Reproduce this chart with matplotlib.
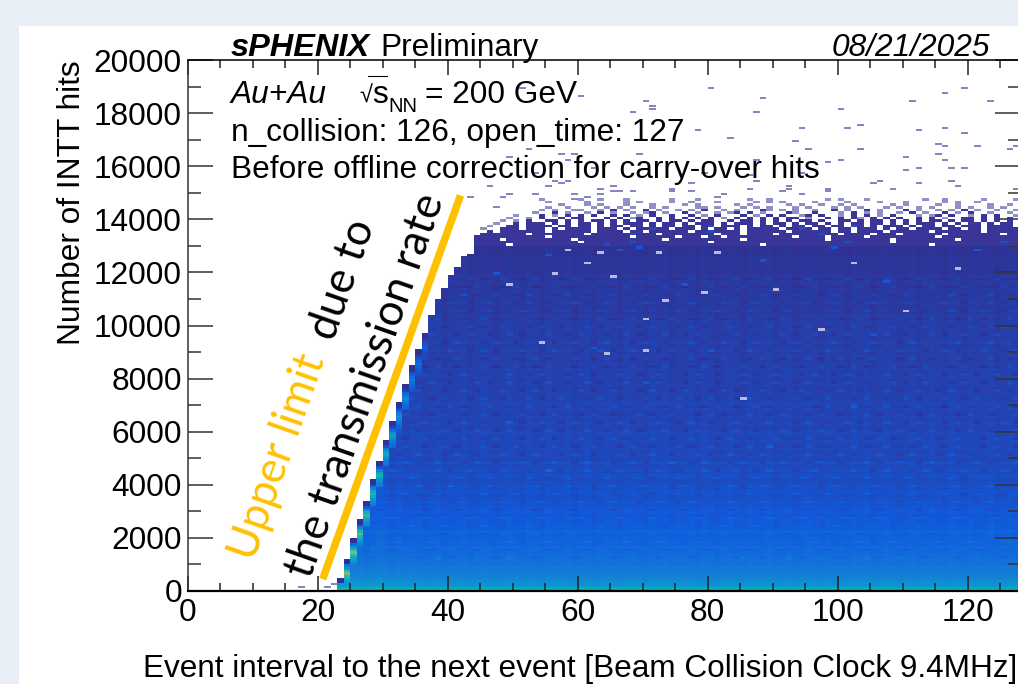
import numpy as np
import matplotlib
matplotlib.use('Agg')
import matplotlib.pyplot as plt
from matplotlib.colors import LinearSegmentedColormap, ListedColormap
from matplotlib.lines import Line2D
from matplotlib.patches import Rectangle
from matplotlib.ticker import MultipleLocator

# ROOT kBird palette
bird_r = [0.2082, 0.0592, 0.0780, 0.0232, 0.1802, 0.5301, 0.8186, 0.9956, 0.9764]
bird_g = [0.1664, 0.3599, 0.5041, 0.6419, 0.7178, 0.7492, 0.7328, 0.7862, 0.9832]
bird_b = [0.5293, 0.8684, 0.8385, 0.7914, 0.6425, 0.4662, 0.3499, 0.1968, 0.0539]

# colour level of the heatmap per 100 hit row, read from the bottom up
row_level = [.42, .36, .32, .29, .27, .25, .24, .22, .22, .21,
             .19, .20, .18, .18, .17, .16, .17, .15, .16, .15,
             .14, .14, .15, .13, .13, .12, .12, .13, .11, .12,
             .11, .11, .10, .11, .10, .09, .10, .10, .09, .10,
             .09, .08, .09, .09, .08, .09, .08, .08, .09, .07,
             .08, .08, .07, .08, .07, .07, .08, .07, .07, .08,
             .07, .06, .07, .07, .06, .07, .06, .06, .07, .06,
             .07, .06, .06, .06, .06, .06, .05, .06, .06, .05,
             .06, .06, .05, .06, .05, .06, .05, .05, .06, .05,
             .06, .05, .05, .06, .05, .05, .05, .05, .05, .05,
             .05, .05, .04, .05, .04, .05, .04, .04, .05, .04,
             .04, .04, .04, .04, .03, .04, .04, .03, .04, .03,
             .03, .03, .03, .03, .03, .03, .02, .02, .03, .02,
             .02, .02, .02, .01, .02, .01, .01, .01, .00, .00]

# top of the filled area, one value per bin from x = 23
solid_top = [500, 1200, 2000, 2700, 3400, 4200, 4900, 5700, 6400, 7100,
             7800, 8500, 9100, 9700, 10400, 11000, 11400, 11900, 12200, 12600,
             12700, 13100, 13300, 13300, 13300] + [13000] * 80

# small offset per column
col_dev = [.01, .01, .02, .01, .00, .01, .02, .01, .00, .01,
           .00, .005, .005, -.005, .00, .005, -.005, .00, .00, .005,
           -.005, .00, .005, .00, -.005, .00, .005, .00, -.005, .005,
           .00, -.005, .005, .00, .00, .005, -.005, .00, .005, -.005,
           .00, .005, .00, -.005, .005, .00, .00, -.005, .005, .00,
           .005, -.005, .00, .00, .005, -.005, .005, .00, -.005, .00,
           .005, .00, -.005, .005, .00, .00, .005, -.005, .00, .005,
           -.005, .00, .005, .00, -.005, .005, .00, .00, -.005, .005,
           .00, .005, -.005, .00, .005, .00, -.005, .00, .005, -.005,
           .00, .005, .00, -.005, .005, .00, -.005, .005, .00, .00,
           .005, -.005, .00, .005, .00]

# bright band just under the edge of the ramp
ramp_x = list(range(23, 37))
ramp_gain = [1.1, 1.2, 1.2, 1.1, 1.0, .95, .9, .8, .7, .6, .55, .45, .35, .25]
cap_level = [.02, .02, .12, .28, .42, .50, .42, .34, .28, .24]

# short streaks inside the filled area, x = 23 .. 127, '+' lighter, '#' much lighter, '-' darker
streak_rows = list(range(1200, 12000, 300))
streak_level = {'+': .03, '#': .06, '-': -.025}
streaks = [
    "..+..-..+...-..+.-...+..-.+...-..+..-...+.-..+...-.+..-..+...-+..-...+.-..+..-...+.-..+...-..+.-..+...-.",
    ".-...+..-.+...-..+...-.+..-...+.-..+..-.+...-..+..-...+.-..+...-..+.-...+..-.+...-..+..-.+...-.+..-..+...",
    "...+.-...+..-.+.-..+...-..+.-...+..-..+.-...+.-..+...-.+..-...+..-.+...-.+..-...+.-..+..-...+.-..+..-..+.",
    "+..-..+..-...+..-.+...-..+..-.+...-.+..-...+..-.+.-...+..-.+...-..+..-.+...-..+.-...+..-.+.-...+..-.+...-",
    "..-.+...-..+.-..+...-.+..-...+.-..+...-.+..-..+...-.+..-...+.-..+..-...+..-.+...-.+..-...+.-..+...-.+..-.",
    ".+..-...+..-.+...-..+.-..+...-.+..-..+.-...+..-.+..-...+.-..+...-.+..-.+...-..+.-..+...-.+..-..+...-.+..-",
    "-...+.-..+...-.+..-...+.-..+..-.+...-..+..-.+...-..+.-...+..-..+.-...+..-.+..-...+.-..+..-.+...-..+.-...+",
    "..+..-.+...-..+..-.+.-...+..-..+.-...+..-.+...-..+..-.+.-...+..-.+...-..+..-.+.-...+..-..+...-.+..-.+...-",
    ".-..+...-.+.-..+...-..+..-.+...-.+..-...+.-..+..-...+..-.+...-.+..-...+.-..+...-.+..-...+.-..+..-.+...-.+",
    "...-.+..-...+.-..#...-.+..-...+.-..+...-..+.-..+...-.+..-...+.-..+..-.+...-.+..-..+...-.+..-...+.-..+..-.",
    "+.-...+..-.+...-..+.-..+...-.+..-..+.-...+..-.+.-...+..-..+...-.+..-...+.-..+..-.+...-.+..-...+.-..+...-.",
    "..+...-.+..-...+.-..+..-.+...-..#.-...+..-.+...-.+..-...+.-..+..-.+...-..+.-...+..-.+...-.+.-...+..-..+.-",
    ".-.+..-...+.-..+...-.+..-...+.-..+..-.+...-..+.-...#..-.+...-.+..-..+...-.+..-...+.-..+..-.+...-..+.-...+",
    "+...-..+.-..+...-.+..-...+..-.+...-.+..-...+.-..+..-...+.-..+..-.+...-..+..-.+.-...+..-.+...-.+..-...+.-.",
    "..-.+...-.+..-..+.-...+.-..+...-.+..-..+...-.+..-...+.-..+...-.+..#...-.+..-...+.-..+...-.+..-.+...-.+..-",
    ".+..-.+...-..+.-...+..-.+...-..+.-...+..-.+.-...+..-..+...-.+..-...+.-..+..-.+...-.+.-...+..-..+...-.+..-",
    "-..+...-.+..-...+.-..+..-.+...-.+.-...+..-..+.-...+..-.+...-.+..-...+.-...+..-.+...-..+.-..+...-.+..-...+",
    "..+.-...+..-.+...-.+..-...#.-..+..-.+...-..+.-...+..-.+..-...+.-..+...-.+..-..+.-...+..-.+...-.+..-...+.-",
    ".-...+.-..+...-.+..-..+.-...+..-.+...-.+..-...+.-..+...-.+.-...+..-.+...-.+..-...+.-..+..-.+...-.+..-...+",
    "+..-.+...-..+..-.+.-...+..-..+...-.+..-...+.-..+..-.+...-.+..-..+.-...+..-.+...#.-..+..-.+...-.+.-...+..-",
    "..-...+.-..+..-.+...-.+..-...+.-..+...-.+..-...+.-..+..-.+...-.+..-...+.-..+...-.+..-..+.-...+..-.+...-.+",
    ".+.-...+..-.+...-..+.-...+..-.+..-...+.-..+...-.+..-.+...-.+.-...+..-..+...-.+..-...+.-..+..-.+...-..+.-.",
    "-..+..-.+...-.+..-...+.-..+...-.+..-..+.-...+..#.+...-.+..-...+.-..+..-.+...-.+..-...+.-..+...-.+..-...+.",
    "..+...-.+.-..+...-.+..-...+..-.+...-.+.-...+..-..+...-.+..-...+.-..+...-.+..-.+.-...+..-.+...-..+.-..+..-",
    ".-.+..-..+...-.+..-...+.-..+..-.+...-..+.-...+..-.+...-.+.-...+..-.+...-..+..-.+.-...+..-.+...-.+..-...+.",
    "+...-.+..-...+.-..+...-.+..-..+.-...+..-.+...-.+..-...+.-..+...-.+..-...+.-..+..-.+...-.+..-...+.-..+..-.",
    "..-.+...-..+.-...+..-.+.-...+..-.+...-..+.-..+...-.+..-..#...-.+..-...+.-..+...-.+..-.+...-..+.-...+..-.+",
    ".+..-...+.-..+..-.+...-.+..-...+.-..+..-.+...-.+..-...+.-..+..-.+...-.+.-...+..-..+...-.+..-...+.-..+...-",
    "-..+.-...+..-.+...-.+..-..+.-...+..-.+...-..+.-...+..-.+...-.+..-...+.-..+..-.+...#.+..-...+.-..+..-.+...",
    "..+..-.+...-.+..-...+.-..+...-.+..-...+.-..+..-.+...-.+.-...+..-..+...-.+..-...+.-...+..-.+...-..+.-..+..",
    ".-...+.-..+..-.+...-..+.-...+..-.+..-...+.-..+...-.+..-..+.-...+..-.+...-.+..-..+.-...+..-.+...-.+.-...+.",
    "+..-.+...-.+..-...+.-..+..-.+...-.+.-...+..-.+...-..+.-...+..-.+...-.+..-...+.-..+...-.+..-...+.-..+..-.+",
    "..-...+..-.+.-...+..-..+...-.+..-...+.-..+...-.+..-...+.-..+..-.+...-..+.-..+...-.+..-.+...-.+..-...+.-..",
    ".+.-..+...-.+..-...#.-..+..-.+...-.+..-...+.-..+..-.+...-.+..-...+.-..+...-.+.-...+..-.+...-..+.-...+..-.",
    "-..+...-..+.-...+..-.+...-.+..-..+.-...+..-.+...-.+..-...+.-..+..-.+...-.+..-...+.-..+...-.+..-.+...-.+..",
    "..+.-..+...-.+..-...+.-..+..-.+...-.+.-...+..-..+...-.+..-...+.-..+...-.+..-..+.-...+..-.+...-.+..-..+.-.",
]

# fringe above the filled area, x = 44 .. 127, '.' empty, 1 pale, 2 navy, 3 blue
fringe_rows = list(range(14700, 12900, -100))
fringe = [
    "..........1.....1..1...1......1...1.......1..1........1.1...1........1..1.....1....1.",
    "...........1.....1.....1.1....1..1...1.....1.1.1....1....1....1...1.....1.1..1......",
    ".............1...1.1...1...1....1.1.....1.1.....1.1..1..1.1.....1.1....1..1....1..1.",
    "...........1..1...1.1.1.1..1.1....11.1...1.1.1...1.1...1.1.1...1.1..1.1...1.1..1.1..",
    "..........1.1..11..1.2.1..2.1..1.1.2..1.1...21.1.1..1..2.1..2.1...2.1..1.1.2.1..1..1",
    ".........1..2.1..1.2.1..1.12.1..2.1..1.12.2.1...21..2...1.2.1.1..1.2.1..2.1.2..1..1.",
    "......1...2.1.2.2.2..2.2.1.2..2..2.1.2...2.1.2.2..12.2..1.2.2.1.2...1.12.2..1.2.2..1",
    ".....1..1.2..2.22...2.2.12..2.2.2.2.2.1.2.2.2.2.22.1..2.2.21.2.2.2..2.2.1..22.2.2.2.",
    "....1.1.2..22.2.2.22.2.2.22.2.22.2.22..2.22.2.2.2.22.2..22.2.22.2.2.2.22.2.22.2.2.2.",
    "...1..2.222.2.2.22.2.2.222.2.22.2.222.2.222.2.22.2.22.2.2.22.22.2.2.222.2.2.22.2.22.",
    "..1..22.2222.22.22.2.22.22.2.22.22.23.222.2.22.2.22.22.22.32.2.222.2.22.22.222.2222.",
    ".1..222.222.2.2222.222.2.22322.222.2.22.2.22222.2232.22.22.222.2.22.2222.22.22.22222",
    "..2.2222222.222222.2222.22.222222.2232222.222222.222222.22.2222.222222.2222222.22222",
    ".2222222.22222222.2222223222.22222222.222.2222.222222322.2222.222.222222.22222222.22",
    "22222222222.222222222222.222222.222.22.2222222222.2222.22222.2222222222.222222222222",
    "2222.2222222222.2222222222222.22222222222.222222222222.222222222.222222222.222222222",
    "2222222222222222.2222222322222222222.222222222222222222223222222.2222222222222222322",
    "22222.22222222222222322222222222222222222222.2222222222222222222222222.2222222222222",
]

# isolated counts above the fringe
out_x = [43, 60, 51, 68, 61, 52, 57, 59, 49, 58, 53, 62, 57, 56, 58, 46, 55, 63, 65, 65, 66, 68,
         49, 48, 53, 59, 59, 61, 63, 47, 80, 88, 70, 71, 71, 87, 78, 94, 83, 93, 95, 69, 87, 98,
         94, 86, 79, 87, 77, 92, 74, 74, 77, 91, 86, 92, 82, 81, 98, 94,
         119, 116, 123, 111, 100, 103, 101, 116, 112, 119, 115, 116, 121, 126, 127, 103, 110, 115,
         116, 100, 112, 117, 119, 110, 117, 105, 106, 118, 112, 98, 108, 127, 17, 21, 22]
out_y = [14800, 18600, 18900, 18000, 17500, 16600, 16400, 16400, 16300, 16200, 15700, 15900, 15300,
         15400, 15400, 15200, 15200, 15100, 15200, 15000, 15000, 15000,
         14900, 14800, 14900, 14900, 14700, 14800, 14900, 14400, 18900, 18500, 18400, 18200, 18100,
         18000, 17300, 17400, 17000, 16900, 16600, 16400, 16200, 16100,
         15700, 15600, 15700, 15400, 15300, 15200, 15100, 15000, 15000, 15000, 15100, 15100, 14900,
         14800, 15000, 14900,
         18900, 18700, 18400, 18400, 18100, 17500, 17400, 17400, 17300, 17200, 16800, 16700, 16700,
         16600, 16700, 16600, 16300, 16400,
         16200, 16200, 15900, 15900, 15900, 15800, 15400, 15300, 15400, 15200, 15300, 15100, 15100,
         15100, 100, 100, 200]

# pale and bright cells inside the filled area
pale_x = [65, 70, 79, 73, 81, 72, 63, 58, 61, 56, 70, 54, 64, 49, 90, 102, 110, 97, 118, 85]
pale_y = [11800, 10200, 11200, 10900, 12700, 12700, 12700, 12800, 12300, 11900, 9000, 9300, 8900,
          11500, 11300, 12300, 10500, 9800, 12100, 7200]
bright_x = [47, 69, 62, 55, 76, 66, 88, 99, 107, 121]
bright_y = [11900, 12900, 9100, 12600, 11500, 12800, 12400, 12900, 11600, 12800]
bright_level = .11

x_ticks = [0, 20, 40, 60, 80, 100, 120]
y_ticks = [0, 2000, 4000, 6000, 8000, 10000, 12000, 14000, 16000, 18000, 20000]

plt.rcParams['font.family'] = ['Liberation Sans', 'DejaVu Sans']

W, H = 1018, 684
label_size = 22.75


def fx(px):
    return px / W


def fy(py):
    return 1 - py / H


fig = plt.figure(figsize=(W / 100, H / 100), dpi=100, facecolor='#e9eff6')
fig.add_artist(Rectangle((fx(19), 0), 1, fy(26), transform=fig.transFigure, facecolor='white', edgecolor='none', zorder=-5))

ax = fig.add_axes([fx(187.5), fy(591), (1019.5 - 187.5) / W, (591 - 60) / H])
ax.set_facecolor('none')

stops = np.linspace(0, 1, 9)
bird = LinearSegmentedColormap.from_list('bird', list(zip(stops, zip(bird_r, bird_g, bird_b))))

# build the heatmap grid, 1 x 100 bins
grid = np.full((150, 128), np.nan)
for i, top in enumerate(solid_top):
    col = 23 + i
    for row in range(top // 100):
        grid[row, col] = row_level[row] + col_dev[i]
for y, line in zip(streak_rows, streaks):
    for k, ch in enumerate(line[:105]):
        if ch in streak_level:
            grid[y // 100, 23 + k] += streak_level[ch]
for col, gain in zip(ramp_x, ramp_gain):
    n = solid_top[col - 23] // 100
    for k, level in enumerate(cap_level):
        row = n - 1 - k
        if row < 0:
            break
        if k < 2:
            grid[row, col] = level
        else:
            grid[row, col] = max(grid[row, col], level * gain)
for x, y in zip(bright_x, bright_y):
    grid[y // 100, x] = bright_level

# fringe and pale cells
shade = np.full((150, 128), np.nan)
for y, line in zip(fringe_rows, fringe):
    for k, ch in enumerate(line[:84]):
        if ch != '.':
            shade[y // 100, 44 + k] = int(ch)
for x, y in zip(pale_x, pale_y):
    shade[y // 100, x] = 4

x_edges = np.arange(129)
y_edges = np.arange(151) * 100
ax.pcolormesh(x_edges, y_edges, np.ma.masked_invalid(grid), cmap=bird, vmin=0, vmax=1, zorder=1)
ax.pcolormesh(x_edges, y_edges, np.ma.masked_invalid(shade),
              cmap=ListedColormap(['#8f90c6', '#3a3598', '#1f4fc0', '#b9bbdf']), vmin=0.5, vmax=4.5, zorder=2)
ax.hlines(np.array(out_y) + 50, out_x, np.array(out_x) + 1, color='#6360ae', lw=1.1, zorder=2)

ax.set_xlim(0, 128)
ax.set_ylim(0, 20000)
ax.set_xticks(x_ticks)
ax.set_yticks(y_ticks)
ax.xaxis.set_minor_locator(MultipleLocator(5))
ax.yaxis.set_minor_locator(MultipleLocator(1000))
ax.tick_params(axis='x', which='major', direction='in', top=True, length=11, width=1.1, color='#222222',
               labelsize=label_size, pad=5)
ax.tick_params(axis='x', which='minor', direction='in', top=True, length=5.5, width=1.1, color='#222222')
ax.tick_params(axis='y', which='major', direction='in', right=True, length=18, width=1.1, color='#333333',
               labelsize=label_size, pad=4)
ax.tick_params(axis='y', which='minor', direction='in', right=True, length=9, width=1.1, color='#333333')
for side in ax.spines:
    ax.spines[side].set_linewidth(1.1)
ax.spines['left'].set_color('#333333')
ax.spines['bottom'].set_linewidth(1.6)

# axis titles
fig.text(fx(1017), fy(677), 'Event interval to the next event [Beam Collision Clock 9.4MHz]',
         ha='right', va='baseline', fontsize=22.65)
fig.text(fx(87), fy(60), 'Number of INTT hits', rotation=90, ha='right', va='top', fontsize=label_size)

# header texts
fig.text(fx(231), fy(56), 'sPHENIX', fontsize=23.4, fontweight='bold', fontstyle='italic', va='baseline')
fig.text(fx(380), fy(56), 'Preliminary', fontsize=label_size, va='baseline')
fig.text(fx(990), fy(56), '08/21/2025', fontsize=label_size, fontstyle='italic', ha='right', va='baseline')
fig.text(fx(231), fy(103), 'Au+Au', fontsize=label_size, fontstyle='italic', va='baseline')
fig.text(fx(359), fy(103), '\u221a', fontsize=17, va='baseline')
fig.add_artist(Line2D([fx(368), fx(387)], [fy(76), fy(76)], color='black', lw=0.8))
fig.text(fx(372), fy(103), 's', fontsize=label_size, va='baseline')
fig.text(fx(388), fy(112), 'NN', fontsize=14.6, va='baseline')
fig.text(fx(425), fy(103), '= 200 GeV', fontsize=label_size, va='baseline')
fig.text(fx(231), fy(141), 'n_collision: 126, open_time: 127', fontsize=label_size, va='baseline')
fig.text(fx(231), fy(178), 'Before offline correction for carry-over hits', fontsize=label_size, va='baseline')

# annotation drawn on the slide
ax.plot([20.8, 42.0], [450, 14900], color='#ffc000', lw=5.4, solid_capstyle='butt', clip_on=False, zorder=4)
note = dict(family=['Lato', 'DejaVu Sans'], fontsize=31.5, rotation=70.7, rotation_mode='anchor', ha='left', va='baseline')
fig.text(fx(254), fy(562), 'Upper limit', color='#ffc000', **note)
fig.text(fx(334), fy(342), 'due to', color='black', **note)
fig.text(fx(311), fy(580), 'the transmission rate', color='black', **note)

fig.savefig('out.png', dpi=100, facecolor=fig.get_facecolor())
